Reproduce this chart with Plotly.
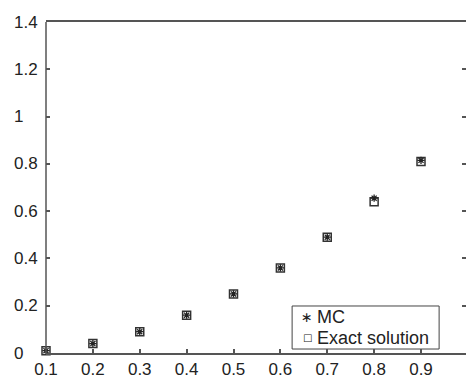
import plotly.graph_objects as go

x_vals = [0.1, 0.2, 0.3, 0.4, 0.5, 0.6, 0.7, 0.8, 0.9, 1.0]
mc_vals = [0.01, 0.04, 0.09, 0.16, 0.25, 0.36, 0.49, 0.655, 0.815, 1.0]
exact_vals = [0.01, 0.04, 0.09, 0.16, 0.25, 0.36, 0.49, 0.64, 0.81, 1.0]
x_ticks = [0.1, 0.2, 0.3, 0.4, 0.5, 0.6, 0.7, 0.8, 0.9]
y_ticks = [0, 0.2, 0.4, 0.6, 0.8, 1.0, 1.2, 1.4]
y_ticklabels = ["0", "0.2", "0.4", "0.6", "0.8", "1", "1.2", "1.4"]
series_names = ["MC", "Exact solution"]

fig = go.Figure()
fig.add_trace(go.Scatter(
    x=x_vals, y=exact_vals, mode="markers", name=series_names[1],
    marker=dict(symbol="square-open", size=8, color="#333333", line=dict(width=1.5, color="#333333")),
    cliponaxis=False, showlegend=False,
))
fig.add_trace(go.Scatter(
    x=x_vals, y=mc_vals, mode="markers", name=series_names[0],
    marker=dict(symbol="asterisk-open", size=6, color="#222222", line=dict(width=1.3, color="#222222")),
    cliponaxis=False, showlegend=False,
))

# y tick labels are left-aligned in the reference, so place them as annotations
annotations = [
    dict(x=-0.081, xref="paper", y=v, yref="y", text=t, showarrow=False,
         xanchor="left", yanchor="middle", font=dict(size=17, color="#222222"))
    for v, t in zip(y_ticks, y_ticklabels)
]

# compact legend (MATLAB style) built from text
legend_rows = [(0.109, "∗", 14, series_names[0]), (0.046, "□", 10, series_names[1])]
for ypos, sym, ssize, label in legend_rows:
    annotations.append(dict(x=0.622, xref="paper", y=ypos, yref="paper", text=sym, showarrow=False,
                            xanchor="center", yanchor="middle",
                            font=dict(family="DejaVu Sans", size=ssize, color="#222222")))
    annotations.append(dict(x=0.643, xref="paper", y=ypos, yref="paper", text=label, showarrow=False,
                            xanchor="left", yanchor="middle", borderpad=0,
                            font=dict(size=18, color="#222222")))

fig.update_layout(
    width=466, height=379,
    margin=dict(l=46, r=0, t=22, b=24),
    paper_bgcolor="white", plot_bgcolor="white",
    font=dict(family="Liberation Sans, Arial, sans-serif", size=17, color="#222222"),
    showlegend=False,
    xaxis=dict(
        range=[0.1, 0.996], tickvals=x_ticks, ticktext=[f"{v:.1f}" for v in x_ticks],
        showgrid=False, zeroline=False, showline=True, linecolor="#555555", linewidth=1.5,
        mirror=True, ticks="inside", ticklen=4, tickcolor="#555555", tickwidth=1.5,
        tickfont=dict(size=17, color="#222222"),
    ),
    yaxis=dict(
        range=[0, 1.4], tickvals=y_ticks, showticklabels=False,
        showgrid=False, zeroline=False, showline=False,
        mirror="ticks", ticks="inside", ticklen=4, tickcolor="#555555", tickwidth=1.5,
    ),
    annotations=annotations,
    shapes=[
        dict(type="line", xref="paper", yref="paper", x0=0, x1=0, y0=0, y1=1,
             line=dict(color="#555555", width=1.5)),
        dict(type="rect", xref="paper", yref="paper", x0=0.586, x1=0.936, y0=0.012, y1=0.142,
             line=dict(color="#444444", width=1), fillcolor="white", layer="below"),
    ],
)

fig.write_html("out.html", config={"displayModeBar": False},
               post_script="document.body.style.margin='0';")
